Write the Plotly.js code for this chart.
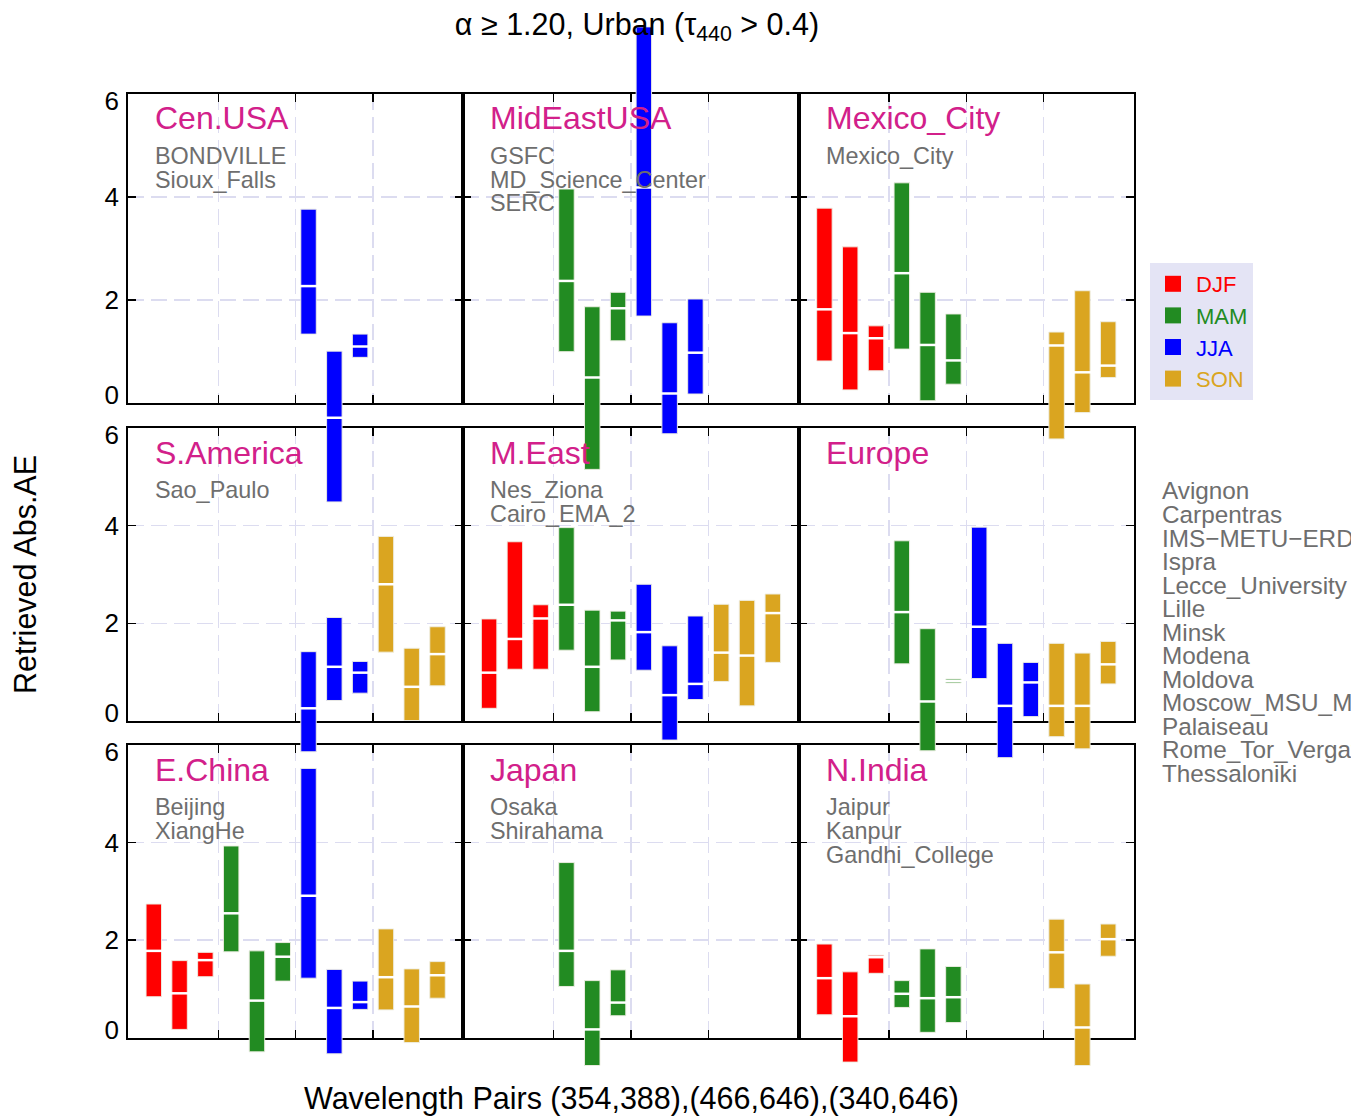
<!DOCTYPE html>
<html>
<head>
<meta charset="utf-8">
<script src="https://cdn.plot.ly/plotly-3.0.1.min.js"></script>
<style>
html,body{margin:0;padding:0;background:#ffffff;overflow:hidden}
#chart{width:1351px;height:1119px}
</style>
</head>
<body>
<div id="chart"></div>
<script>
// ---------------- data ----------------
const seasons = ['DJF', 'MAM', 'JJA', 'SON'];
const seasonColors = ['#ff0000', '#228b22', '#0000ff', '#daa520'];
const wavelengthPairs = ['(354,388)', '(466,646)', '(340,646)'];

const regionNames = ['Cen.USA', 'MidEastUSA', 'Mexico_City',
                     'S.America', 'M.East', 'Europe',
                     'E.China', 'Japan', 'N.India'];

const sitesCenUSA = ['BONDVILLE', 'Sioux_Falls'];
const sitesMidEastUSA = ['GSFC', 'MD_Science_Center', 'SERC'];
const sitesMexico = ['Mexico_City'];
const sitesSAmerica = ['Sao_Paulo'];
const sitesMEast = ['Nes_Ziona', 'Cairo_EMA_2'];
const sitesEurope = ['Avignon', 'Carpentras', 'IMS\u2212METU\u2212ERDEMLI', 'Ispra', 'Lecce_University',
                     'Lille', 'Minsk', 'Modena', 'Moldova', 'Moscow_MSU_MO', 'Palaiseau',
                     'Rome_Tor_Vergata', 'Thessaloniki'];
const sitesEChina = ['Beijing', 'XiangHe'];
const sitesJapan = ['Osaka', 'Shirahama'];
const sitesNIndia = ['Jaipur', 'Kanpur', 'Gandhi_College'];

// order of values: DJF pairs 1-3, MAM pairs 1-3, JJA pairs 1-3, SON pairs 1-3
const n = null;
const cenUSA_lo  = [n, n, n,  n, n, n,  1.34, -1.91, 0.89,  n, n, n];
const cenUSA_hi  = [n, n, n,  n, n, n,  3.76,  1.01, 1.34,  n, n, n];
const cenUSA_med = [n, n, n,  n, n, n,  2.27, -0.28, 1.10,  n, n, n];

const midEastUSA_lo  = [n, n, n,  1.00, -1.28, 1.21,  1.69, -0.59, 0.18,  n, n, n];
const midEastUSA_hi  = [n, n, n,  4.15,  1.87, 2.15,  7.29,  1.56, 2.02,  n, n, n];
const midEastUSA_med = [n, n, n,  2.37,  0.50, 1.84,  4.18,  0.19, 0.98,  n, n, n];

const mexico_lo  = [0.82, 0.26, 0.63,  1.05, 0.05, 0.37,  n, n, n,  -0.69, -0.18, 0.50];
const mexico_hi  = [3.78, 3.03, 1.50,  4.27, 2.15, 1.73,  n, n, n,   1.38,  2.18, 1.58];
const mexico_med = [1.82, 1.36, 1.26,  2.52, 1.13, 0.83,  n, n, n,   1.12,  0.60, 0.73];

const sAmerica_lo  = [n, n, n,  n, n, n,  -0.63, 0.42, 0.57,  1.41, 0.01, 0.72];
const sAmerica_hi  = [n, n, n,  n, n, n,   1.42, 2.12, 1.22,  3.78, 1.49, 1.93];
const sAmerica_med = [n, n, n,  n, n, n,   0.26, 1.11, 0.99,  2.80, 0.70, 1.37];

const mEast_lo  = [0.26, 1.06, 1.06,  1.45, 0.19, 1.25,  1.04, -0.39, 0.44,  0.81, 0.31, 1.20];
const mEast_hi  = [2.09, 3.67, 2.38,  3.96, 2.27, 2.25,  2.80,  1.54, 2.15,  2.39, 2.47, 2.60];
const mEast_med = [0.99, 1.68, 2.10,  2.38, 1.11, 2.06,  1.82,  0.53, 0.76,  1.40, 1.34, 2.21];

const europe_lo  = [n, n, n,  1.17, -0.61, 0.78,  0.87, -0.75, 0.09,  -0.32, -0.57, 0.76];
const europe_hi  = [n, n, n,  3.69,  1.89, 0.86,  3.97,  1.59, 1.20,   1.59,  1.39, 1.63];
const europe_med = [n, n, n,  2.23,  0.40, 0.82,  1.93,  0.31, 0.79,   0.31,  0.31, 1.16];

const eChina_lo  = [0.84, 0.17, 1.25,  1.76, -0.29, 1.16,  1.22, -0.33, 0.58,  0.57, -0.10, 0.81];
const eChina_hi  = [2.74, 1.58, 1.75,  3.93,  1.78, 1.95,  5.52,  1.40, 1.16,  2.23,  1.41, 1.56];
const eChina_med = [1.78, 0.91, 1.59,  2.55,  0.76, 1.66,  2.91,  0.61, 0.73,  1.24,  0.64, 1.28];

const japan_lo  = [n, n, n,  1.05, -0.57, 0.45,  n, n, n,  n, n, n];
const japan_hi  = [n, n, n,  3.59,  1.17, 1.39,  n, n, n,  n, n, n];
const japan_med = [n, n, n,  1.78,  0.17, 0.72,  n, n, n,  n, n, n];

const nIndia_lo  = [0.47, -0.50, 1.32,  0.62, 0.11, 0.31,  n, n, n,  1.01, -0.57, 1.67];
const nIndia_hi  = [1.92,  1.35, 1.69,  1.17, 1.82, 1.46,  n, n, n,  2.43,  1.10, 2.33];
const nIndia_med = [1.22,  0.44, 1.65,  0.90, 0.81, 0.83,  n, n, n,  1.75,  0.21, 2.02];

const yTickValues = [0, 2, 4, 6];
const yTickLabels = ['0', '2', '4', '6'];

const panelLows    = [cenUSA_lo, midEastUSA_lo, mexico_lo, sAmerica_lo, mEast_lo, europe_lo, eChina_lo, japan_lo, nIndia_lo];
const panelHighs   = [cenUSA_hi, midEastUSA_hi, mexico_hi, sAmerica_hi, mEast_hi, europe_hi, eChina_hi, japan_hi, nIndia_hi];
const panelMedians = [cenUSA_med, midEastUSA_med, mexico_med, sAmerica_med, mEast_med, europe_med, eChina_med, japan_med, nIndia_med];
const panelSites   = [sitesCenUSA, sitesMidEastUSA, sitesMexico, sitesSAmerica, sitesMEast, [], sitesEChina, sitesJapan, sitesNIndia];

// ---------------- layout geometry (pixels) ----------------
const W = 1351, H = 1119;
const colPx = [[128, 463.3], [463.3, 798.6], [798.6, 1134]];
const rowPx = [[93.5, 403.3], [428, 721], [745, 1037.7]];
const yMin = 0, yMax = 6;
const xMin = 0, xMax = 13;
const endLabelInset = [8, 7];   // px: bottom label pushed up, top label pushed down

const FONT = 'Liberation Sans, Arial, Helvetica, sans-serif';
const REGION_COLOR = '#d2208a';
const SITE_COLOR = '#6e6e6e';
const GRID_COLOR = '#dcdcf0';

function xDom(c) { return [colPx[c][0] / W, colPx[c][1] / W]; }
function yDom(r) { return [1 - rowPx[r][1] / H, 1 - rowPx[r][0] / H]; }
function pxPerUnit(r) { return (rowPx[r][1] - rowPx[r][0]) / (yMax - yMin); }
// overlay axis spanning whole height with the same scale as the row panel
function overlayRange(r) {
  const b = rowPx[r][1];
  const s = pxPerUnit(r);
  return [yMin + (b - H) / s, yMin + b / s];
}

const layout = {
  width: W, height: H,
  margin: {l: 0, r: 0, t: 0, b: 0, pad: 0},
  paper_bgcolor: '#ffffff', plot_bgcolor: 'rgba(255,255,255,0)',
  barmode: 'overlay',
  hovermode: false,
  font: {family: FONT, color: '#000'},
  title: {
    text: '\u03b1 \u2265 1.20, Urban (\u03c4<sub>440</sub> > 0.4)',
    x: 637 / W, xanchor: 'center', xref: 'container',
    y: 1 - 24 / H, yanchor: 'middle', yref: 'container',
    font: {size: 30.5, family: FONT, color: '#000'}
  },
  showlegend: true,
  legend: {
    x: 1150 / W, xanchor: 'left', y: 1 - 263 / H, yanchor: 'top',
    bgcolor: '#e4e4f5', borderwidth: 0, itemwidth: 36,
    font: {size: 22, family: FONT},
    traceorder: 'normal', itemclick: false, itemdoubleclick: false
  },
  annotations: []
};

const dashSpec = '16px,7px';

const traces = [];
for (let k = 0; k < 9; k++) {
  const r = Math.floor(k / 3), c = k % 3;
  const num = k + 1;
  const sfx = num === 1 ? '' : String(num);
  layout['xaxis' + sfx] = {
    domain: xDom(c), range: [xMin, xMax], anchor: 'y' + sfx,
    tickmode: 'array', tickvals: [3.5, 6.5, 9.5], showticklabels: false,
    ticks: 'inside', ticklen: 8, tickwidth: 1.5, tickcolor: '#000',
    showline: true, linecolor: '#000', linewidth: 2, mirror: 'ticks',
    showgrid: true, gridcolor: GRID_COLOR, gridwidth: 1.5, griddash: dashSpec,
    zeroline: false, fixedrange: true
  };
  layout['yaxis' + sfx] = {
    domain: yDom(r), range: [yMin, yMax], anchor: 'x' + sfx,
    tickmode: 'array', tickvals: yTickValues, showticklabels: false,
    ticks: 'inside', ticklen: 8, tickwidth: 1.5, tickcolor: '#000',
    showline: true, linecolor: '#000', linewidth: 2, mirror: 'ticks',
    showgrid: true, gridcolor: GRID_COLOR, gridwidth: 1.5, griddash: dashSpec,
    zeroline: false, fixedrange: true
  };
  // empty trace so the panel subplot (frame, grid, ticks) exists
  traces.push({
    type: 'scatter', mode: 'markers', x: [null], y: [null],
    xaxis: 'x' + sfx, yaxis: 'y' + sfx, showlegend: false, hoverinfo: 'skip'
  });
}
// tick-label axes for the left column (end labels kept inside the frame)
for (let r = 0; r < 3; r++) {
  const k = r * 3;
  const sfx = k === 0 ? '' : String(k + 1);
  const s = pxPerUnit(r);
  const labelPos = yTickValues.slice();
  labelPos[0] = yTickValues[0] + endLabelInset[0] / s;
  labelPos[labelPos.length - 1] = yTickValues[yTickValues.length - 1] - endLabelInset[1] / s;
  const id = 13 + r;
  layout['yaxis' + id] = {
    domain: yDom(r), range: [yMin, yMax], anchor: 'x' + sfx, overlaying: 'y' + sfx, side: 'left',
    tickmode: 'array', tickvals: labelPos, ticktext: yTickLabels,
    tickfont: {size: 26, family: FONT, color: '#000'}, ticklabelstandoff: 8,
    ticks: '', showline: false, showgrid: false, zeroline: false, fixedrange: true
  };
  traces.push({
    type: 'scatter', mode: 'markers', x: [null], y: [null],
    xaxis: 'x' + sfx, yaxis: 'y' + id, showlegend: false, hoverinfo: 'skip'
  });
}
// overlay axes (same scales, full-height domains so bars may overflow the panels)
for (let c = 0; c < 3; c++) {
  layout['xaxis' + (10 + c)] = {domain: xDom(c), range: [xMin, xMax], visible: false, anchor: 'y10', fixedrange: true};
}
for (let r = 0; r < 3; r++) {
  layout['yaxis' + (10 + r)] = {domain: [0, 1], range: overlayRange(r), visible: false, anchor: 'x10', fixedrange: true};
}

// ---------------- traces ----------------
for (let k = 0; k < 9; k++) {
  const r = Math.floor(k / 3), c = k % 3;
  const xa = 'x' + (10 + c), ya = 'y' + (10 + r);
  for (let s = 0; s < seasons.length; s++) {
    const xs = [], bases = [], heights = [], meds = [];
    for (let p = 0; p < wavelengthPairs.length; p++) {
      const i = s * wavelengthPairs.length + p;
      const lo = panelLows[k][i], hi = panelHighs[k][i];
      xs.push(i + 1);
      bases.push(lo);
      heights.push(lo === null ? null : hi - lo);
      meds.push(panelMedians[k][i]);
    }
    traces.push({
      type: 'bar', x: xs, y: heights, base: bases, width: 0.6,
      xaxis: xa, yaxis: ya, showlegend: false, hoverinfo: 'skip',
      marker: {color: seasonColors[s], line: {color: 'rgba(238,238,228,0.95)', width: 1}}
    });
    traces.push({
      type: 'scatter', mode: 'markers', x: xs, y: meds,
      xaxis: xa, yaxis: ya, showlegend: false, hoverinfo: 'skip', cliponaxis: false,
      marker: {symbol: 'line-ew', size: 16, color: 'white', line: {color: 'white', width: 2.5}}
    });
  }
}
// legend entries
for (let s = 0; s < seasons.length; s++) {
  traces.push({
    type: 'scatter', mode: 'markers', x: [null], y: [null],
    xaxis: 'x10', yaxis: 'y10', hoverinfo: 'skip',
    name: '<span style="color:' + seasonColors[s] + '">' + seasons[s] + '</span>',
    marker: {symbol: 'square', size: 16, color: seasonColors[s]}
  });
}

// ---------------- text annotations ----------------
for (let k = 0; k < 9; k++) {
  const r = Math.floor(k / 3), c = k % 3;
  const left = colPx[c][0] + 25, top = rowPx[r][0];
  layout.annotations.push({
    text: regionNames[k], xref: 'paper', yref: 'paper',
    x: left / W, y: 1 - (top + 25) / H, xanchor: 'left', yanchor: 'middle',
    showarrow: false, font: {size: 32, color: REGION_COLOR, family: FONT}
  });
  panelSites[k].forEach((name, j) => {
    layout.annotations.push({
      text: name, xref: 'paper', yref: 'paper',
      x: left / W, y: 1 - (top + 62 + 24 * j) / H, xanchor: 'left', yanchor: 'middle',
      showarrow: false, font: {size: 23.4, color: SITE_COLOR, family: FONT}
    });
  });
}
sitesEurope.forEach((name, j) => {
  layout.annotations.push({
    text: name, xref: 'paper', yref: 'paper',
    x: 1160 / W, y: 1 - (491 + 23.5 * j) / H, xanchor: 'left', yanchor: 'middle',
    showarrow: false, font: {size: 24.3, color: SITE_COLOR, family: FONT}
  });
});
// axis titles
layout.annotations.push({
  text: 'Retrieved Abs.AE', xref: 'paper', yref: 'paper',
  x: 25 / W, y: 1 - 575 / H, xanchor: 'center', yanchor: 'middle', textangle: -90,
  showarrow: false, font: {size: 30.5, color: '#000', family: FONT}
});
layout.annotations.push({
  text: 'Wavelength Pairs ' + wavelengthPairs.join(','), xref: 'paper', yref: 'paper',
  x: 631 / W, y: 1 - 1098 / H, xanchor: 'center', yanchor: 'middle',
  showarrow: false, font: {size: 30.5, color: '#000', family: FONT}
});

Plotly.newPlot('chart', traces, layout, {staticPlot: true, displayModeBar: false});
</script>
</body>
</html>
